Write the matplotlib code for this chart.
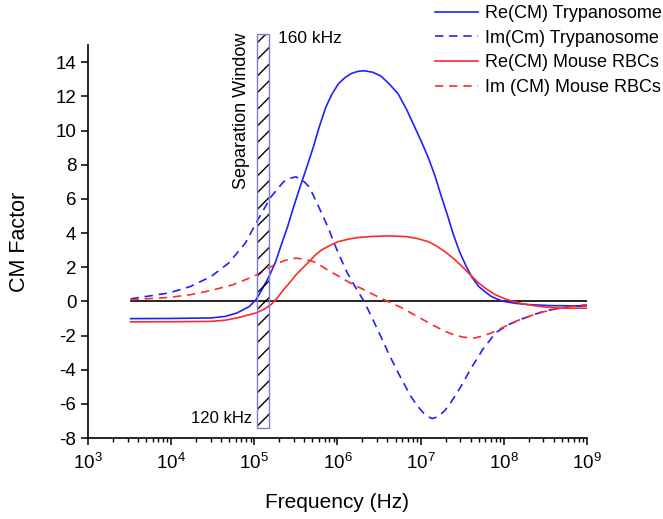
import numpy as np
import matplotlib
matplotlib.use("Agg")
import matplotlib.pyplot as plt
from matplotlib.patches import Rectangle
from matplotlib.ticker import NullFormatter

plt.rcParams['font.family'] = ['Liberation Sans', 'DejaVu Sans']
plt.rcParams['mathtext.default'] = 'regular'
plt.rcParams['axes.unicode_minus'] = False

# log10(frequency) / CM factor
re_tryp_logf = [3.51, 4.0, 4.48, 4.65, 4.79, 4.94, 5.02, 5.09, 5.17, 5.25, 5.32, 5.40, 5.47, 5.55,
                5.63, 5.71, 5.78, 5.86, 5.93, 6.01, 6.09, 6.17, 6.25, 6.32, 6.42, 6.52, 6.62,
                6.73, 6.83, 6.93, 7.01, 7.09, 7.17, 7.24, 7.32, 7.39, 7.47, 7.55, 7.62, 7.70,
                7.78, 7.85, 7.93, 8.00, 8.15, 8.31, 8.57, 8.8, 9.0]
re_tryp = [-1.01, -1.0, -0.97, -0.88, -0.68, -0.3, 0.1, 0.68, 1.4, 2.24, 3.25, 4.37, 5.5, 6.7,
           7.85, 9.04, 10.2, 11.37, 12.1, 12.73, 13.1, 13.35, 13.47, 13.5, 13.42, 13.2, 12.75,
           12.15, 11.25, 10.2, 9.35, 8.45, 7.4, 6.3, 5.1, 3.98, 2.9, 2.04, 1.4, 0.87,
           0.55, 0.29, 0.12, 0.0, -0.12, -0.19, -0.25, -0.26, -0.26]

im_tryp_logf = [3.51, 3.97, 4.23, 4.48, 4.69, 4.89, 5.04, 5.20, 5.35, 5.42, 5.50, 5.58, 5.66,
                5.73, 5.81, 5.89, 5.96, 6.04, 6.12, 6.22, 6.32, 6.42, 6.52, 6.62, 6.73, 6.81,
                6.88, 6.96, 7.03, 7.09, 7.14, 7.21, 7.29, 7.36, 7.44, 7.52, 7.60, 7.68, 7.75,
                7.83, 7.90, 7.98, 8.06, 8.18, 8.31, 8.44, 8.57, 8.8, 9.0]
im_tryp = [0.15, 0.49, 0.87, 1.46, 2.24, 3.4, 4.76, 6.12, 7.0, 7.2, 7.29, 7.1, 6.7,
           6.0, 5.15, 4.3, 3.4, 2.5, 1.65, 0.8, 0.0, -1.0, -2.04, -3.1, -4.18, -4.9,
           -5.54, -6.1, -6.51, -6.75, -6.86, -6.75, -6.4, -5.95, -5.35, -4.7, -3.98, -3.35, -2.8,
           -2.3, -1.85, -1.6, -1.36, -1.1, -0.87, -0.65, -0.49, -0.33, -0.22]

re_rbc_logf = [3.51, 4.0, 4.48, 4.65, 4.79, 5.02, 5.12, 5.20, 5.28, 5.35, 5.43, 5.50, 5.58, 5.66,
               5.73, 5.81, 5.91, 6.01, 6.14, 6.27, 6.42, 6.58, 6.70, 6.83, 6.96, 7.09, 7.19,
               7.29, 7.40, 7.50, 7.60, 7.70, 7.80, 7.90, 8.0, 8.11, 8.23, 8.36, 8.5, 8.66, 9.0]
re_rbc = [-1.2, -1.19, -1.17, -1.1, -0.97, -0.68, -0.45, -0.19, 0.22, 0.68, 1.12, 1.55, 1.95, 2.33,
          2.7, 3.01, 3.28, 3.5, 3.65, 3.75, 3.8, 3.83, 3.82, 3.79, 3.68, 3.5, 3.25,
          2.92, 2.5, 2.04, 1.55, 1.07, 0.7, 0.39, 0.18, 0.0, -0.14, -0.25, -0.33, -0.39, -0.4]

im_rbc_logf = [3.51, 3.97, 4.23, 4.48, 4.74, 4.99, 5.1, 5.20, 5.28, 5.35, 5.43, 5.50, 5.6,
               5.71, 5.81, 5.91, 6.02, 6.12, 6.22, 6.32, 6.42, 6.52, 6.65, 6.78, 6.9, 7.03,
               7.16, 7.29, 7.40, 7.50, 7.58, 7.65, 7.75, 7.85, 7.95, 8.06, 8.18, 8.31, 8.44,
               8.57, 8.78, 9.0]
im_rbc = [0.1, 0.23, 0.39, 0.64, 0.97, 1.46, 1.75, 2.04, 2.22, 2.37, 2.48, 2.53, 2.47,
          2.33, 2.06, 1.75, 1.46, 1.17, 0.92, 0.68, 0.43, 0.19, -0.1, -0.39, -0.72, -1.07,
          -1.42, -1.75, -1.95, -2.08, -2.13, -2.14, -2.03, -1.85, -1.62, -1.36, -1.1, -0.87, -0.67,
          -0.49, -0.32, -0.19]

labels = ['Re(CM) Trypanosome', 'Im(Cm) Trypanosome', 'Re(CM) Mouse RBCs', 'Im (CM) Mouse RBCs']
window = [1.08e5, 1.48e5]

blue = '#2020ff'
red = '#ff2a2a'
dash = (5, 3.5)

fig = plt.figure(figsize=(6.63, 5.19), dpi=100)
ax = fig.add_axes([0.133, 0.156, 0.752, 0.757])

ax.plot([10 ** re_tryp_logf[0], 10 ** re_tryp_logf[-1]], [0, 0], color='black', lw=1.2, zorder=1)

ax.plot(10 ** np.array(re_tryp_logf), re_tryp, color=blue, lw=1.2, label=labels[0])
ax.plot(10 ** np.array(im_tryp_logf), im_tryp, color=blue, lw=1.2, dashes=dash, label=labels[1])
ax.plot(10 ** np.array(re_rbc_logf), re_rbc, color=red, lw=1.2, label=labels[2])
ax.plot(10 ** np.array(im_rbc_logf), im_rbc, color=red, lw=1.2, dashes=dash, label=labels[3])

# separation window
ax.add_patch(Rectangle((window[0], -7.43), window[1] - window[0], 23.1, fill=False,
                       hatch='//', edgecolor='black', lw=0, clip_on=False, zorder=3))
ax.add_patch(Rectangle((window[0], -7.43), window[1] - window[0], 23.1, fill=False,
                       edgecolor='#7b7bd6', lw=1.0, clip_on=False, zorder=3))

ax.text(8.9e4, 15.75, 'Separation Window', rotation=90, ha='right', va='top', fontsize=13)
ax.text(1.9e5, 15.37, '160 kHz', ha='left', va='center', fontsize=12.5)
ax.text(9.3e4, -6.84, '120 kHz', ha='right', va='center', fontsize=12)

ax.set_xscale('log')
ax.set_xlim(1e3, 1e9)
ax.set_ylim(-8, 15)
ax.set_xticks(10.0 ** np.arange(3, 10))
ax.set_yticks(np.arange(-8, 15, 2))
ax.xaxis.set_minor_formatter(NullFormatter())
ax.spines['top'].set_visible(False)
ax.spines['right'].set_visible(False)
ax.spines['left'].set_linewidth(1.2)
ax.spines['bottom'].set_linewidth(1.2)
ax.tick_params(which='major', direction='out', length=5, width=1.1, labelsize=13.5)
ax.tick_params(which='minor', direction='out', length=3, width=1.0)
ax.tick_params(axis='x', pad=6)

ax.set_xlabel('Frequency (Hz)', fontsize=15, labelpad=14)
ax.set_ylabel('CM Factor', fontsize=15.5, labelpad=18)

fig.legend(loc='upper right', bbox_to_anchor=(0.998, 0.99), frameon=False, fontsize=13,
           handlelength=2.4, handletextpad=0.35, labelspacing=0.42, borderpad=0, borderaxespad=0)

fig.savefig('out.png', dpi=100)
